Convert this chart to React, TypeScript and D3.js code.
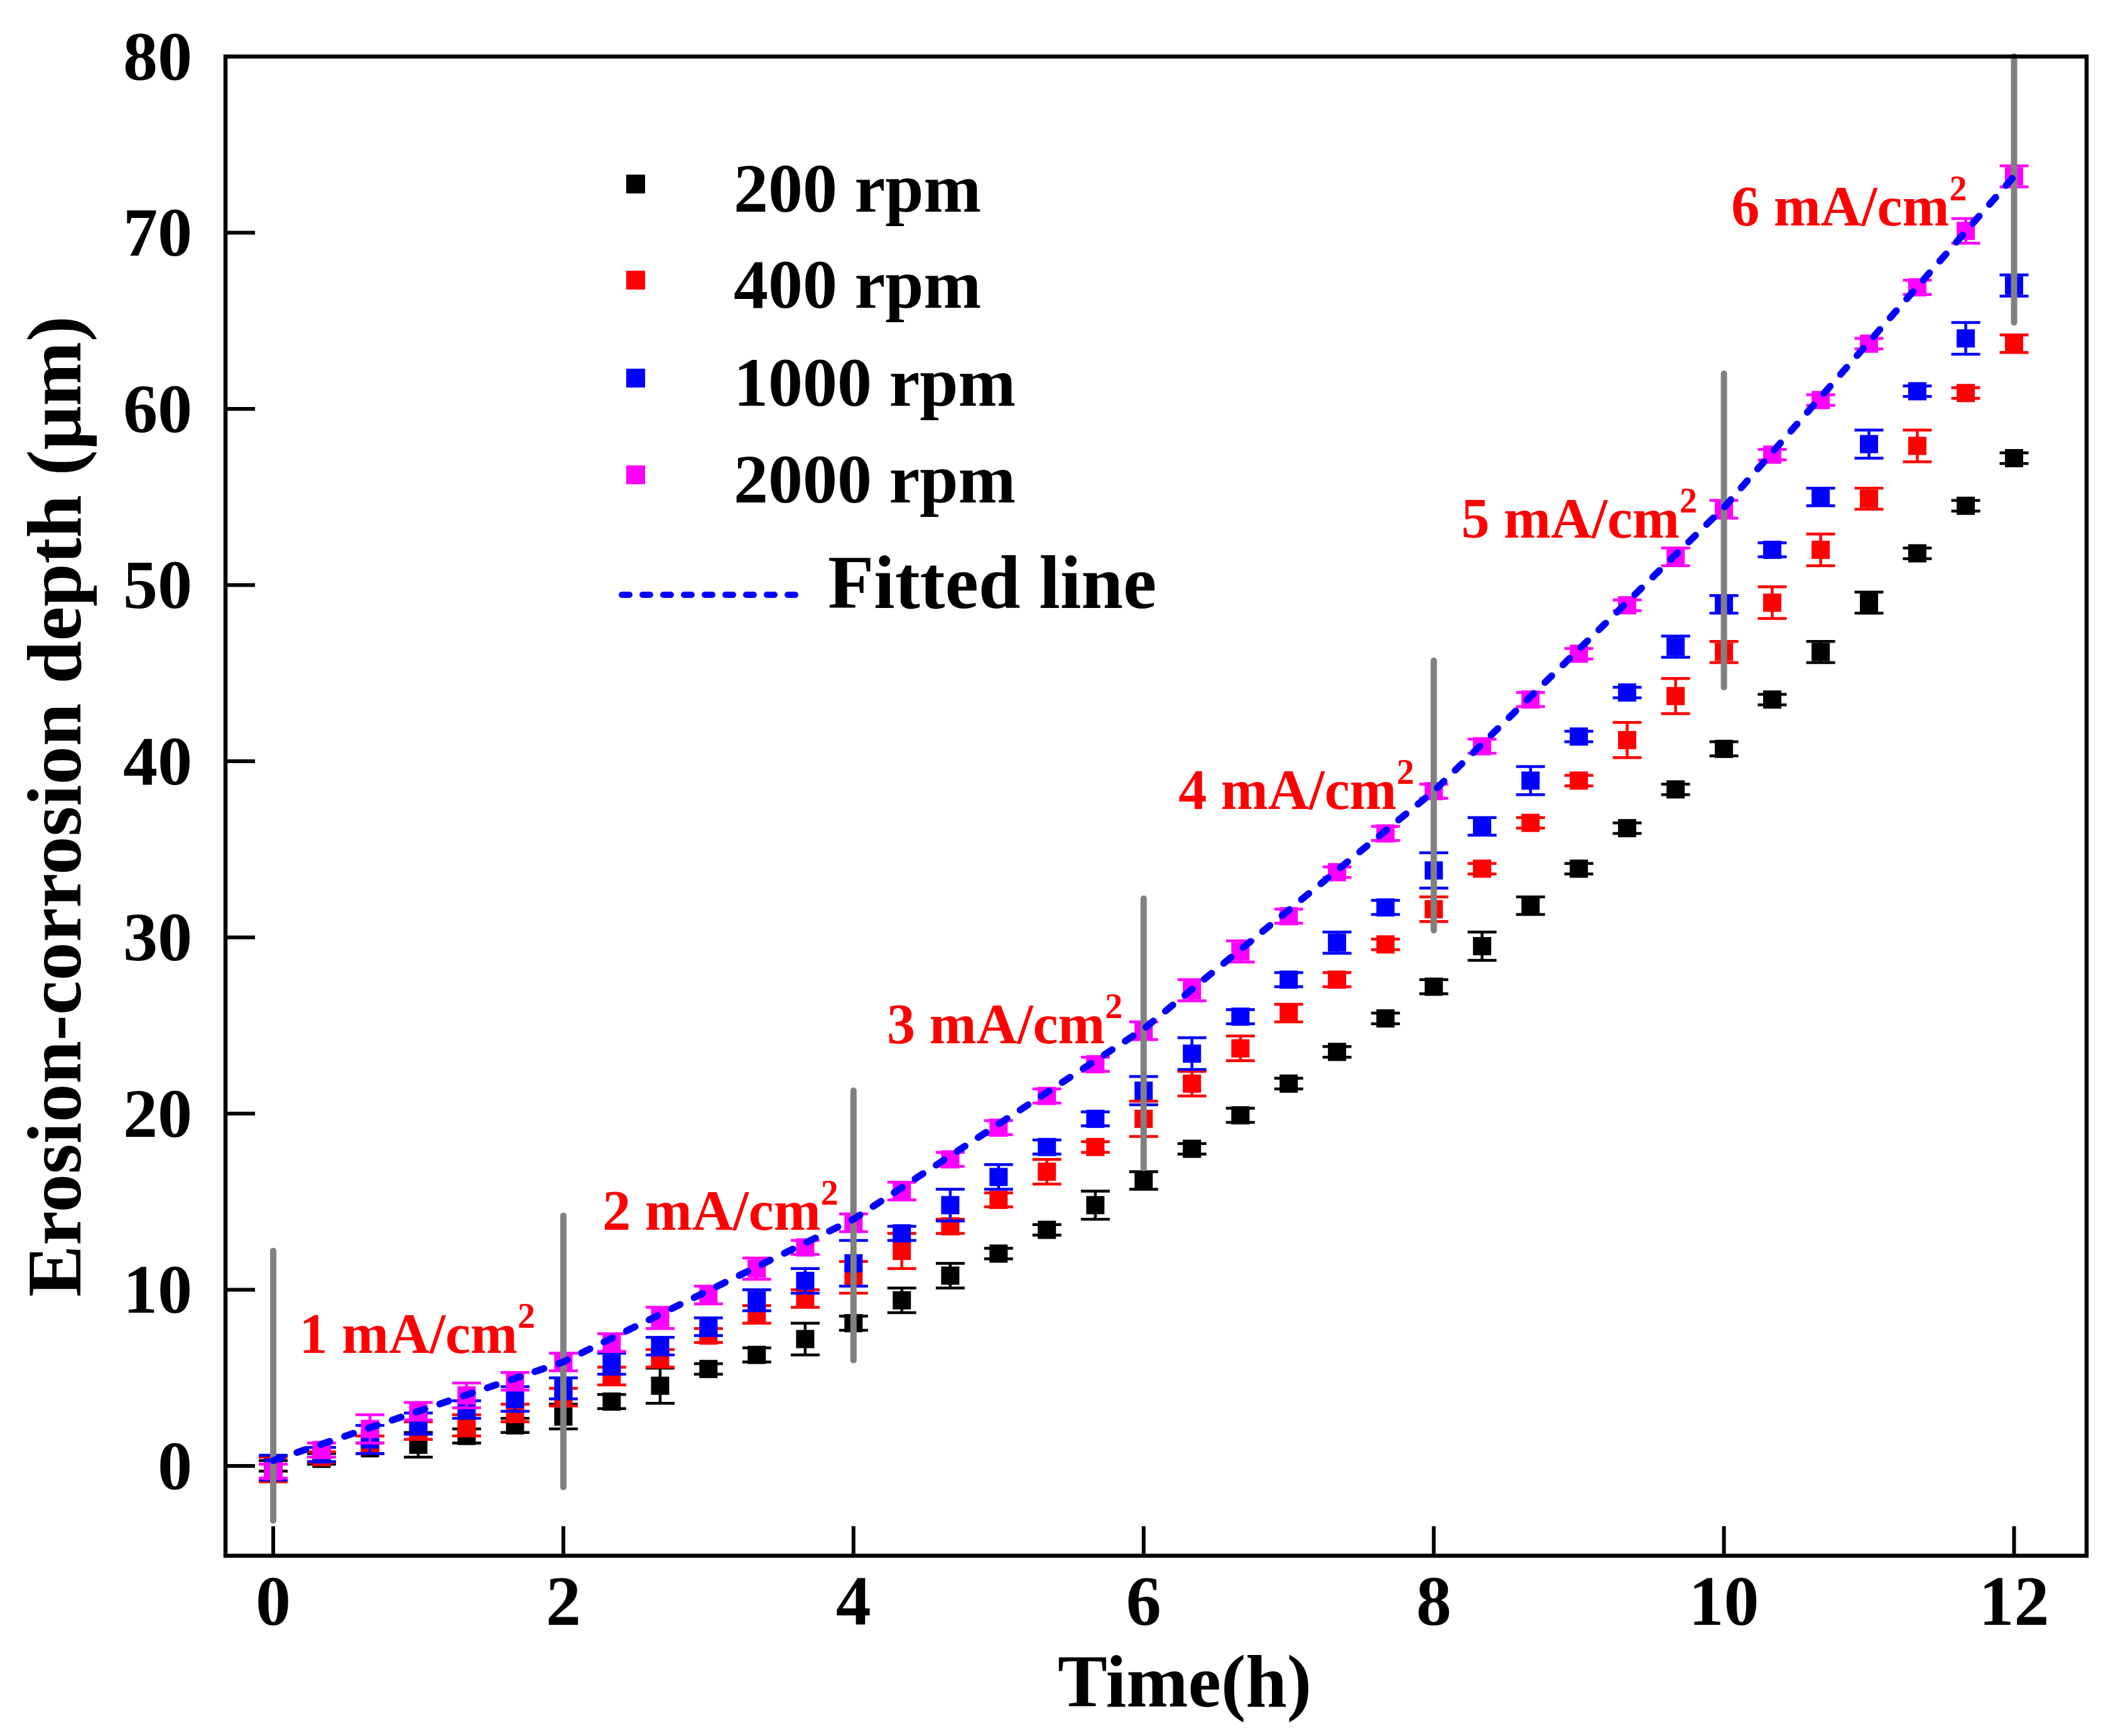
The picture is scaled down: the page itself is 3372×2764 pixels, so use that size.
import React, { useEffect, useRef } from 'react';
import * as d3 from 'd3';

// time axis (h), one reading every 20 minutes
const times = [
  0, 0.333, 0.667, 1, 1.333, 1.667, 2, 2.333, 2.667, 3, 3.333, 3.667, 4,
  4.333, 4.667, 5, 5.333, 5.667, 6, 6.333, 6.667, 7, 7.333, 7.667, 8,
  8.333, 8.667, 9, 9.333, 9.667, 10, 10.333, 10.667, 11, 11.333, 11.667, 12,
];

const depth200 = [
  0.0, 0.4, 1.0, 1.2, 1.7, 2.3, 2.8, 3.65, 4.55, 5.5, 6.3, 7.2, 8.1,
  9.4, 10.8, 12.05, 13.4, 14.8, 16.2, 18.0, 19.9, 21.7, 23.5, 25.4, 27.2,
  29.5, 31.8, 33.9, 36.2, 38.4, 40.7, 43.5, 46.2, 49.0, 51.8, 54.5, 57.2,
];
const err200 = [
  0.3, 0.3, 0.3, 0.7, 0.4, 0.4, 0.7, 0.4, 1.0, 0.3, 0.4, 0.9, 0.4,
  0.7, 0.7, 0.3, 0.3, 0.8, 0.5, 0.3, 0.4, 0.3, 0.3, 0.3, 0.4,
  0.8, 0.5, 0.3, 0.3, 0.3, 0.4, 0.3, 0.6, 0.6, 0.3, 0.3, 0.3,
];

const depth400 = [
  -0.2, 0.5, 1.2, 2.0, 2.3, 3.0, 3.9, 5.1, 6.1, 7.4, 8.6, 9.5, 10.7,
  12.2, 13.6, 15.1, 16.7, 18.1, 19.7, 21.7, 23.7, 25.7, 27.6, 29.6, 31.6,
  33.9, 36.5, 38.9, 41.2, 43.7, 46.2, 49.0, 52.0, 54.9, 57.9, 60.9, 63.7,
];
const err400 = [
  0.7, 0.3, 0.5, 0.5, 0.6, 0.5, 0.5, 0.5, 0.5, 0.4, 0.5, 0.5, 0.9,
  1.0, 0.4, 0.4, 0.7, 0.3, 1.0, 0.7, 0.7, 0.5, 0.4, 0.3, 0.7,
  0.3, 0.3, 0.3, 1.0, 1.0, 0.6, 0.9, 0.9, 0.6, 0.9, 0.3, 0.5,
];

const depth1000 = [
  -0.1, 0.65, 1.5, 2.4, 3.2, 3.8, 4.4, 5.8, 6.8, 7.9, 9.4, 10.5, 11.5,
  13.2, 14.8, 16.4, 18.1, 19.7, 21.3, 23.4, 25.5, 27.6, 29.7, 31.7, 33.8,
  36.3, 38.9, 41.4, 43.9, 46.5, 48.9, 52.0, 55.0, 58.0, 61.0, 64.0, 67.0,
];
const err1000 = [
  0.7, 0.4, 0.8, 0.6, 0.5, 0.7, 0.6, 0.6, 0.5, 0.5, 0.6, 0.7, 1.3,
  0.4, 0.9, 0.7, 0.4, 0.4, 0.8, 0.9, 0.4, 0.4, 0.6, 0.4, 1.0,
  0.5, 0.8, 0.3, 0.3, 0.6, 0.5, 0.4, 0.5, 0.8, 0.3, 0.9, 0.6,
];

const depth2000 = [
  -0.3, 0.9, 2.1, 3.1, 4.0, 4.8, 5.9, 7.0, 8.4, 9.7, 11.2, 12.4, 13.8,
  15.6, 17.4, 19.2, 21.0, 22.8, 24.7, 27.0, 29.2, 31.2, 33.7, 35.9, 38.3,
  40.85, 43.5, 46.1, 48.85, 51.6, 54.3, 57.4, 60.5, 63.7, 66.9, 70.1, 73.2,
];
const err2000 = [
  0.4, 0.4, 0.8, 0.5, 0.7, 0.5, 0.5, 0.5, 0.6, 0.5, 0.6, 0.4, 0.5,
  0.5, 0.4, 0.4, 0.4, 0.4, 0.5, 0.6, 0.6, 0.4, 0.3, 0.4, 0.4,
  0.4, 0.4, 0.3, 0.3, 0.5, 0.5, 0.3, 0.3, 0.3, 0.4, 0.7, 0.6,
];

const seriesNames = ['200 rpm', '400 rpm', '1000 rpm', '2000 rpm'];
const seriesColors = ['#000000', '#FF0000', '#0000FF', '#FF00FF'];
const seriesDepths = [depth200, depth400, depth1000, depth2000];
const seriesErrors = [err200, err400, err1000, err2000];

// fitted line, read at the current-density switch points
const fitTimes = [0, 2, 4, 6, 8, 10, 12];
const fitDepths = [0.3, 5.9, 14.0, 24.8, 38.3, 54.4, 73.2];

// grey markers where the current density changes
const switchTimes = [0, 2, 4, 6, 8, 10, 12];
const switchLow = [-3.1, -1.2, 6.0, 16.9, 30.4, 44.2, 64.9];
const switchHigh = [12.2, 14.2, 21.3, 32.2, 45.7, 62.0, 80];

// current density labels (left edge / baseline, in data units)
const densityLabels = ['1', '2', '3', '4', '5', '6'];
const densityT = [0.18, 2.27, 4.23, 6.24, 8.19, 10.05];
const densityV = [6.4, 13.4, 24.0, 37.3, 52.7, 70.4];

const xTicks = [0, 2, 4, 6, 8, 10, 12];
const yTicks = [0, 10, 20, 30, 40, 50, 60, 70, 80];

const W = 3372;
const H = 2764;
const FONT = '"Liberation Serif", "Times New Roman", serif';

export default function App() {
  const svgRef = useRef<SVGSVGElement>(null);

  useEffect(() => {
    if (!svgRef.current) return;
    const root = d3.select(svgRef.current);
    root.selectAll('*').remove();

    const left = 359;
    const right = 3322;
    const top = 90;
    const bottom = 2477;

    const x = d3.scaleLinear().domain([-0.329, 12.5]).range([left, right]);
    const y = d3.scaleLinear().domain([-5.1, 80]).range([bottom, top]);

    root.append('rect').attr('width', W).attr('height', H).attr('fill', '#fff');

    // data: error bars + square markers
    const markerSize = 29;
    const capHalf = 23;
    seriesDepths.forEach((vals, si) => {
      const color = seriesColors[si];
      const errs = seriesErrors[si];
      const g = root.append('g');
      times.forEach((t, i) => {
        const cx = x(t);
        const lo = y(vals[i] - errs[i]);
        const hi = y(vals[i] + errs[i]);
        g.append('line')
          .attr('x1', cx).attr('x2', cx)
          .attr('y1', lo).attr('y2', hi)
          .attr('stroke', color).attr('stroke-width', 4.5);
        [lo, hi].forEach(yy => {
          g.append('line')
            .attr('x1', cx - capHalf).attr('x2', cx + capHalf)
            .attr('y1', yy).attr('y2', yy)
            .attr('stroke', color).attr('stroke-width', 4.5);
        });
        g.append('rect')
          .attr('x', cx - markerSize / 2)
          .attr('y', y(vals[i]) - markerSize / 2)
          .attr('width', markerSize)
          .attr('height', markerSize)
          .attr('fill', color);
      });
    });

    // grey switch lines
    switchTimes.forEach((t, i) => {
      root.append('line')
        .attr('x1', x(t)).attr('x2', x(t))
        .attr('y1', y(switchLow[i])).attr('y2', y(switchHigh[i]))
        .attr('stroke', '#808080')
        .attr('stroke-width', 10)
        .attr('stroke-linecap', 'round');
    });

    // fitted line
    const fit = d3.line<number>()
      .x((_, i) => x(fitTimes[i]))
      .y(d => y(d));
    root.append('path')
      .attr('d', fit(fitDepths))
      .attr('fill', 'none')
      .attr('stroke', '#0000FF')
      .attr('stroke-width', 11)
      .attr('stroke-linecap', 'round')
      .attr('stroke-dasharray', '15 25');

    // current density labels
    densityLabels.forEach((lab, i) => {
      const tx = root.append('text')
        .attr('x', x(densityT[i]))
        .attr('y', y(densityV[i]))
        .attr('fill', '#FF0000')
        .attr('font-family', FONT)
        .attr('font-weight', 'bold')
        .attr('font-size', 90);
      tx.append('tspan').text(`${lab} mA/cm`);
      tx.append('tspan').attr('font-size', 56).attr('dy', -40).text('2');
    });

    // frame
    root.append('rect')
      .attr('x', left).attr('y', top)
      .attr('width', right - left).attr('height', bottom - top)
      .attr('fill', 'none')
      .attr('stroke', '#000')
      .attr('stroke-width', 6.5);

    // ticks (inward) and labels
    yTicks.forEach(v => {
      if (v < 80) {
        root.append('line')
          .attr('x1', left).attr('x2', left + 47)
          .attr('y1', y(v)).attr('y2', y(v))
          .attr('stroke', '#000').attr('stroke-width', 6);
      }
      root.append('text')
        .attr('x', 306)
        .attr('y', y(v) + 37)
        .attr('text-anchor', 'end')
        .attr('font-family', FONT)
        .attr('font-weight', 'bold')
        .attr('font-size', 110)
        .text(v);
    });
    xTicks.forEach(v => {
      root.append('line')
        .attr('x1', x(v)).attr('x2', x(v))
        .attr('y1', bottom).attr('y2', bottom - 47)
        .attr('stroke', '#000').attr('stroke-width', 6);
      root.append('text')
        .attr('x', x(v))
        .attr('y', 2587)
        .attr('text-anchor', 'middle')
        .attr('font-family', FONT)
        .attr('font-weight', 'bold')
        .attr('font-size', 112)
        .text(v);
    });

    // axis titles
    root.append('text')
      .attr('x', 1886)
      .attr('y', 2717)
      .attr('text-anchor', 'middle')
      .attr('font-family', FONT)
      .attr('font-weight', 'bold')
      .attr('font-size', 118)
      .text('Time(h)');
    root.append('text')
      .attr('transform', 'translate(128, 1284) rotate(-90)')
      .attr('text-anchor', 'middle')
      .attr('font-family', FONT)
      .attr('font-weight', 'bold')
      .attr('font-size', 123)
      .text('Erosion-corrosion depth (\u03bcm)');

    // legend
    const legendRowY = [293, 446, 602, 756];
    seriesNames.forEach((name, i) => {
      root.append('rect')
        .attr('x', 1012 - 15).attr('y', legendRowY[i] - 15)
        .attr('width', 30).attr('height', 30)
        .attr('fill', seriesColors[i]);
      root.append('text')
        .attr('x', 1168)
        .attr('y', legendRowY[i] + 44)
        .attr('font-family', FONT)
        .attr('font-weight', 'bold')
        .attr('font-size', 110)
        .text(name);
    });
    root.append('line')
      .attr('x1', 990).attr('x2', 1285)
      .attr('y1', 947).attr('y2', 947)
      .attr('stroke', '#0000FF')
      .attr('stroke-width', 10)
      .attr('stroke-linecap', 'round')
      .attr('stroke-dasharray', '12 21');
    root.append('text')
      .attr('x', 1318)
      .attr('y', 968)
      .attr('font-family', FONT)
      .attr('font-weight', 'bold')
      .attr('font-size', 120)
      .text('Fitted line');
  }, []);

  return (
    <svg
      ref={svgRef}
      width={W}
      height={H}
      style={{ position: 'absolute', left: 0, top: 0, display: 'block' }}
    />
  );
}
